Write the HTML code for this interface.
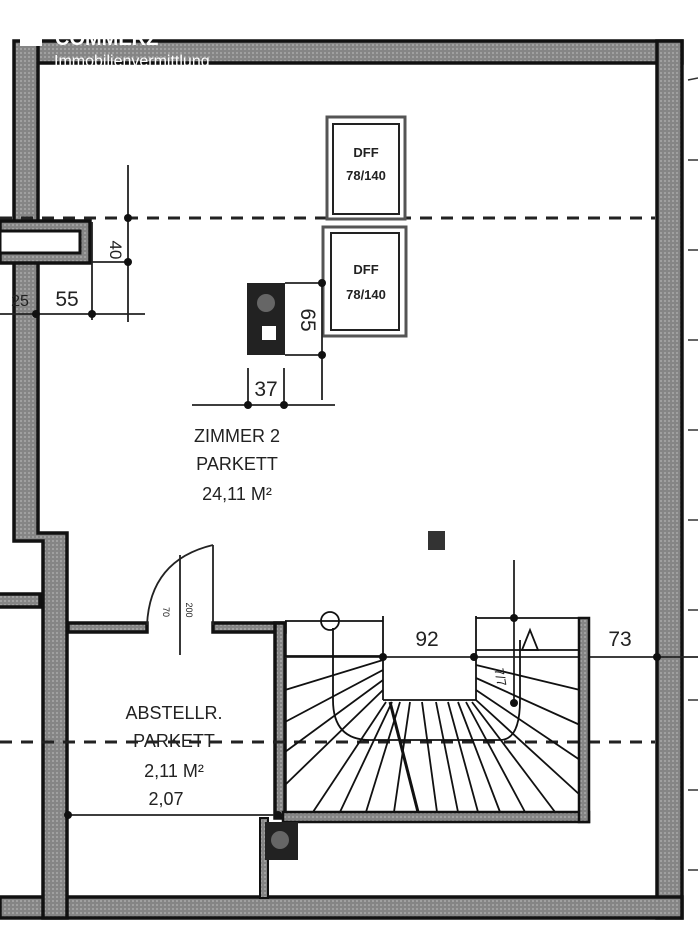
<!DOCTYPE html>
<html><head><meta charset="utf-8"><style>
html,body{margin:0;padding:0;background:#fff;}
svg{display:block;}
text{font-family:"Liberation Sans",sans-serif;fill:#222;}
</style></head><body>
<svg width="698" height="948" viewBox="0 0 698 948" xmlns="http://www.w3.org/2000/svg">
<defs>
<pattern id="h" width="4" height="4" patternUnits="userSpaceOnUse">
<rect width="4" height="4" fill="#858585"/><rect width="2" height="2" fill="#a0a0a0"/>
</pattern>
</defs>
<g fill="url(#h)" stroke="#111" stroke-width="3.5">
<rect x="30" y="41" width="652" height="22"/>
<rect x="657" y="41" width="25" height="877"/>
<rect x="0" y="897" width="682" height="21"/>
<path d="M14 41 H38 V533 H67 V918 H43 V541 H14 Z"/>
<rect x="-5" y="594" width="45" height="13"/>
<rect x="68" y="623" width="79" height="9"/>
<rect x="213" y="623" width="72" height="9"/>
<rect x="275" y="623" width="10" height="195"/>
<rect x="0" y="221" width="90" height="42"/>
</g>
<rect x="0" y="231" width="80" height="22" fill="#fff" stroke="#111" stroke-width="3"/>
<rect x="20" y="38" width="22" height="8" fill="#fff"/>
<text x="55" y="45" font-size="20" font-weight="bold" style="fill:#fff">COMMERZ</text>
<text x="54" y="66" font-size="16" style="fill:#fff">Immobilienvermittlung</text>
<g stroke="#222" stroke-width="3" stroke-dasharray="12,9">
<line x1="0" y1="218" x2="655" y2="218"/>
<line x1="0" y1="742" x2="655" y2="742"/>
</g>
<g fill="#fff" stroke="#555" stroke-width="3">
<rect x="327" y="117" width="78" height="102"/>
<rect x="333" y="124" width="66" height="90" stroke="#222" stroke-width="2"/>
<rect x="323" y="227" width="83" height="109"/>
<rect x="331" y="233" width="68" height="97" stroke="#222" stroke-width="2"/>
</g>
<g font-size="13" text-anchor="middle" font-weight="bold">
<text x="366" y="157">DFF</text><text x="366" y="180">78/140</text>
<text x="366" y="274">DFF</text><text x="366" y="299">78/140</text>
</g>
<g stroke="#222" stroke-width="1.8" fill="none">
<line x1="128" y1="165" x2="128" y2="322"/>
<line x1="92" y1="262" x2="128" y2="262"/>
<line x1="92" y1="222" x2="92" y2="320"/>
<line x1="0" y1="314" x2="145" y2="314"/>
<line x1="285" y1="283" x2="322" y2="283"/>
<line x1="285" y1="355" x2="322" y2="355"/>
<line x1="322" y1="283" x2="322" y2="400"/>
<line x1="192" y1="405" x2="335" y2="405"/>
<line x1="248" y1="368" x2="248" y2="405"/>
<line x1="284" y1="368" x2="284" y2="405"/>
<line x1="180" y1="555" x2="180" y2="655"/>
<line x1="213" y1="545" x2="213" y2="625"/>
<path d="M147 625 Q150 560 213 545"/>
<line x1="68" y1="815" x2="285" y2="815"/>
<line x1="285" y1="657" x2="698" y2="657"/>
<line x1="514" y1="560" x2="514" y2="700"/>
</g>
<g fill="#111">
<circle cx="128" cy="218" r="4"/><circle cx="128" cy="262" r="4"/>
<circle cx="36" cy="314" r="4"/><circle cx="92" cy="314" r="4"/>
<circle cx="322" cy="283" r="4"/><circle cx="322" cy="355" r="4"/>
<circle cx="248" cy="405" r="4"/><circle cx="284" cy="405" r="4"/>
<circle cx="68" cy="815" r="4"/><circle cx="278" cy="815" r="4"/>
<circle cx="383" cy="657" r="4"/><circle cx="474" cy="657" r="4"/>
<circle cx="584" cy="657" r="4"/><circle cx="657" cy="657" r="4"/>
<circle cx="514" cy="618" r="4"/><circle cx="514" cy="703" r="4"/>
</g>
<text x="117" y="243" font-size="17" transform="rotate(90 110 243)" text-anchor="middle">40</text>
<text x="20" y="306" font-size="16" text-anchor="middle">25</text>
<text x="67" y="306" font-size="21" text-anchor="middle">55</text>
<text x="0" y="0" font-size="21" text-anchor="middle" transform="translate(301,320) rotate(90)">65</text>
<text x="266" y="396" font-size="21" text-anchor="middle">37</text>
<text x="0" y="0" font-size="9" text-anchor="middle" transform="translate(163,612) rotate(90)">70</text>
<text x="0" y="0" font-size="9" text-anchor="middle" transform="translate(186,610) rotate(90)">200</text>
<rect x="247" y="283" width="38" height="72" fill="#222"/>
<circle cx="266" cy="303" r="9" fill="#666"/>
<rect x="262" y="326" width="14" height="14" fill="#fff"/>
<rect x="428" y="531" width="17" height="19" fill="#333"/>
<g text-anchor="middle" font-size="18">
<text x="237" y="442">ZIMMER 2</text>
<text x="237" y="470">PARKETT</text>
<text x="237" y="500">24,11 M²</text>
<text x="174" y="719">ABSTELLR.</text>
<text x="174" y="747">PARKETT</text>
<text x="174" y="777">2,11 M²</text>
<text x="166" y="805">2,07</text>
<text x="427" y="646" font-size="21">92</text>
<text x="620" y="646" font-size="21">73</text>
</g>
<g stroke="#111" stroke-width="1.8" fill="none">
<line x1="285" y1="621" x2="383" y2="621"/>
<line x1="383" y1="616" x2="383" y2="700"/>
<line x1="383" y1="700" x2="476" y2="700"/>
<line x1="476" y1="616" x2="476" y2="700"/>
<line x1="476" y1="618" x2="585" y2="618"/>
<line x1="285" y1="656" x2="383" y2="656"/>
<line x1="476" y1="650" x2="585" y2="650"/>
<path d="M333 628 V700 Q333 740 370 740 H500 Q520 740 520 700 V640"/>
<circle cx="330" cy="621" r="9"/>
<path d="M522 650 L530 630 L538 650 Z"/>
<line x1="285" y1="690" x2="383" y2="660"/>
<line x1="285" y1="722" x2="383" y2="670"/>
<line x1="285" y1="752" x2="383" y2="680"/>
<line x1="285" y1="785" x2="383" y2="690"/>
<line x1="313" y1="812" x2="386" y2="702"/>
<line x1="340" y1="812" x2="392" y2="702"/>
<line x1="366" y1="812" x2="400" y2="702"/>
<line x1="394" y1="812" x2="410" y2="702"/>
<line x1="418" y1="812" x2="390" y2="702" stroke-width="3"/>
<line x1="437" y1="812" x2="422" y2="702"/>
<line x1="458" y1="812" x2="436" y2="702"/>
<line x1="478" y1="812" x2="448" y2="702"/>
<line x1="500" y1="812" x2="458" y2="702"/>
<line x1="525" y1="812" x2="466" y2="702"/>
<line x1="555" y1="812" x2="472" y2="702"/>
<line x1="580" y1="795" x2="476" y2="700"/>
<line x1="580" y1="760" x2="476" y2="690"/>
<line x1="580" y1="725" x2="476" y2="678"/>
<line x1="580" y1="690" x2="476" y2="665"/>
</g>
<text x="0" y="0" font-size="13" text-anchor="middle" transform="translate(496,678) rotate(80)">7/7</text>
<rect x="283" y="812" width="306" height="10" fill="url(#h)" stroke="#111" stroke-width="2.5"/>
<rect x="579" y="618" width="10" height="204" fill="url(#h)" stroke="#111" stroke-width="2.5"/>
<rect x="260" y="818" width="8" height="80" fill="url(#h)" stroke="#111" stroke-width="2"/>
<rect x="265" y="822" width="33" height="38" fill="#222"/>
<circle cx="280" cy="840" r="9" fill="#666"/>
<g stroke="#333" stroke-width="1.5">
<line x1="688" y1="80" x2="698" y2="78"/>
<line x1="688" y1="160" x2="698" y2="160"/><line x1="688" y1="250" x2="698" y2="250"/>
<line x1="688" y1="340" x2="698" y2="340"/><line x1="688" y1="430" x2="698" y2="430"/>
<line x1="688" y1="520" x2="698" y2="520"/><line x1="688" y1="610" x2="698" y2="610"/>
<line x1="688" y1="700" x2="698" y2="700"/><line x1="688" y1="790" x2="698" y2="790"/>
<line x1="688" y1="870" x2="698" y2="870"/>
</g>
</svg>
</body></html>
